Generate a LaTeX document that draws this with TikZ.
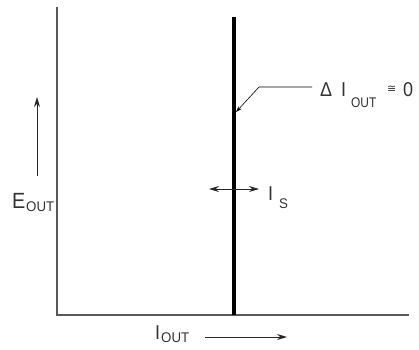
\documentclass[tikz,border=0pt]{standalone}
\usepackage{fontspec}
\setmainfont{Liberation Sans}
\newfontfamily\symfont{DejaVu Sans}
\usetikzlibrary{arrows.meta}
\tikzset{
  axis/.style={draw=black!65, line width=1.4pt},
  thickline/.style={draw=black, line width=4pt},
  arr/.style={draw=black!85, line width=0.9pt, -{Stealth[length=10pt,width=6pt]}},
  darr/.style={draw=black!85, line width=0.9pt, {Stealth[length=10pt,width=6pt]}-{Stealth[length=10pt,width=6pt]}},
  lead/.style={draw=black, line width=0.6pt, -{Stealth[length=6pt,width=4pt]}},
  big/.style={inner sep=0pt, anchor=base west, text=black!80, font=\fontsize{20}{20}\selectfont, xscale=0.9},
  small/.style={inner sep=0pt, anchor=base west, text=black!80, font=\fontsize{14}{14}\selectfont, xscale=0.95},
}
\begin{document}
\begin{tikzpicture}[x=1pt,y=-1pt]
\useasboundingbox (0,0) rectangle (419,349);
% axes
\coordinate (top) at (57,7);
\coordinate (o) at (57,315);
\coordinate (right) at (409,315);
\draw[axis] (top) -- (o) -- (right);
% thick line
\coordinate (t1) at (234,17);
\coordinate (t2) at (234,315);
\draw[thickline] (t1) -- (t2);
% E_OUT
\coordinate (ea) at (37,176);
\coordinate (eb) at (37,97);
\draw[arr] (ea) -- (eb);
\node[big, font=\fontsize{22}{22}\selectfont] (E) at (12,208) {E};
\node[small] (Es) at (26,211) {OUT};
% I_OUT
\node[big] (I) at (155,339) {I};
\node[small] (Is) at (161,342) {OUT};
\coordinate (ia) at (205,337);
\coordinate (ib) at (287,337);
\draw[arr] (ia) -- (ib);
% I_S
\coordinate (sa) at (209,189);
\coordinate (sb) at (259,189);
\draw[darr] (sa) -- (sb);
\node[big] (IS) at (268,200) {I};
\node[small] (ISs) at (279,208) {S};
% Delta I_OUT
\coordinate (la) at (312,87);
\coordinate (lb) at (259,87);
\coordinate (lc) at (236,112);
\draw[lead] (la) -- (lb) -- (lc);
\node[big] (D) at (320,96) {Δ};
\node[big] (DI) at (341,96) {I};
\node[small, xscale=0.9] (DIs) at (351,107) {OUT};
\node[inner sep=0pt, anchor=base west, text=black!80, font=\symfont\fontsize{11}{11}\selectfont] (cong) at (387,92) {≅};
\node[big] (zero) at (403,96) {0};
\end{tikzpicture}
\end{document}
